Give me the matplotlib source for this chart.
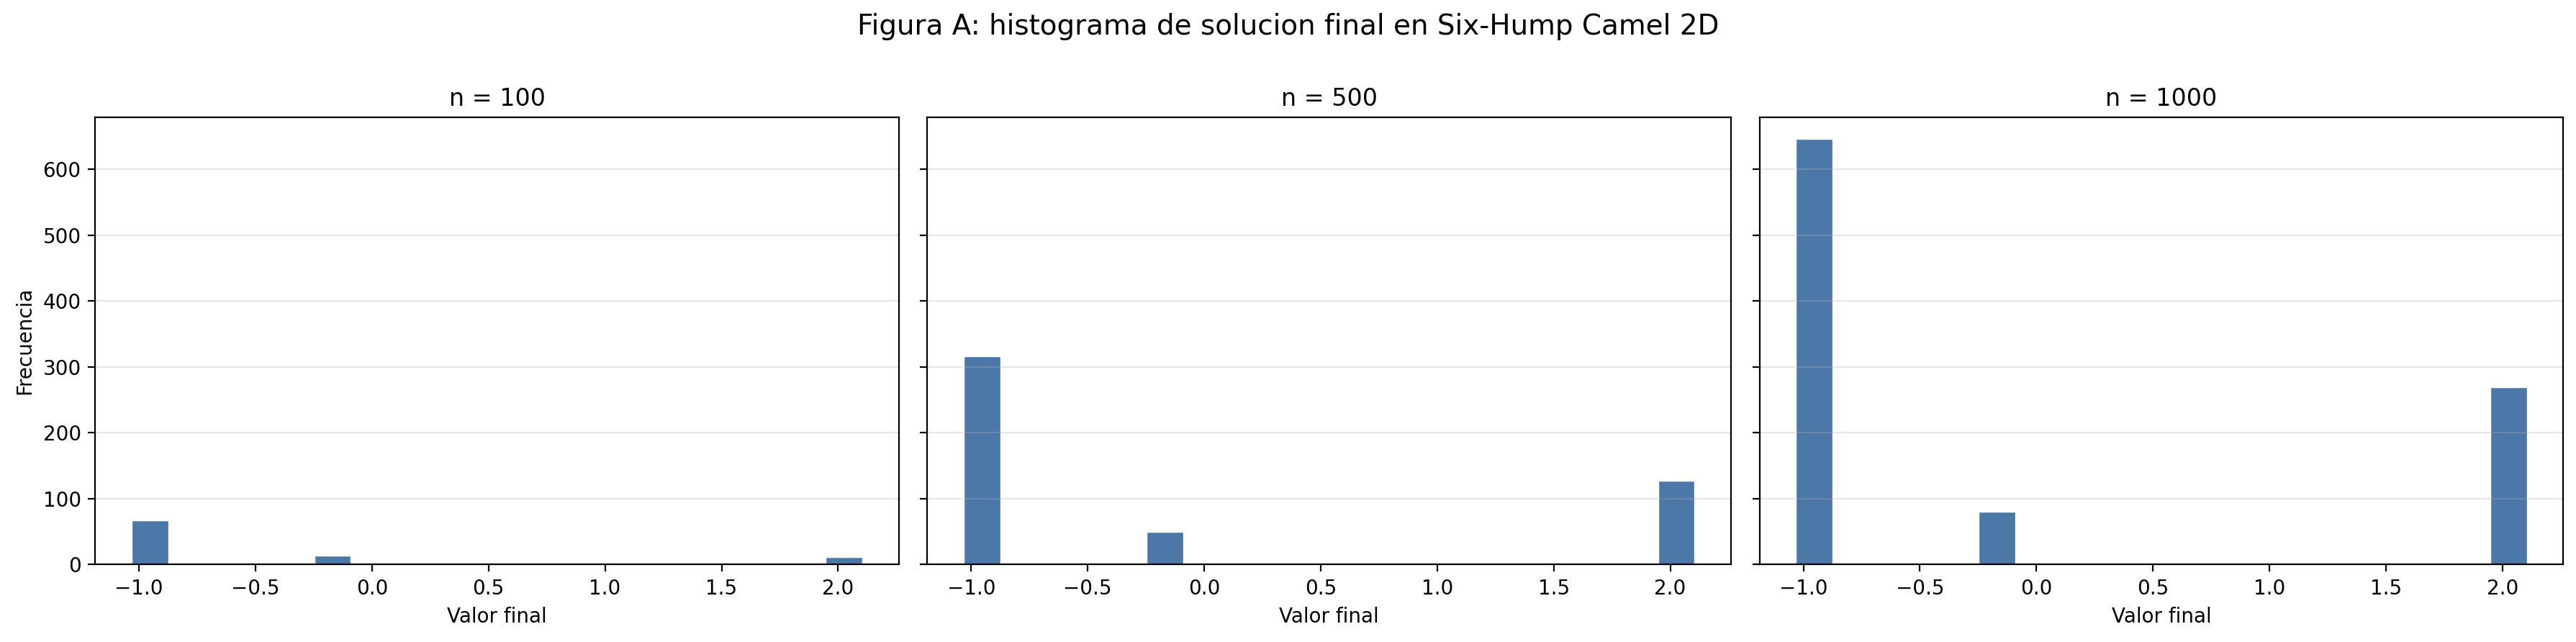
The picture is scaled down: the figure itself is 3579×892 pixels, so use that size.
import numpy as np
from matplotlib import pyplot as plt

# final values found by the runs (the three local minima) and how often each was hit
valores = [-1.0316, -0.2155, 2.1043]
n_vals = [100, 500, 1000]
conteo_100 = [67, 14, 11]
conteo_500 = [316, 50, 127]
conteo_1000 = [646, 80, 269]
conteos = [conteo_100, conteo_500, conteo_1000]

fig, axes = plt.subplots(1, 3, figsize=(17.9, 4.46), dpi=200, sharey=True)

for ax, n, c in zip(axes, n_vals, conteos):
    ax.hist(valores, bins=20, range=(min(valores), max(valores)), weights=c,
            color='#4C78A8', edgecolor='white', linewidth=0.5)
    ax.set_title('n = {0}'.format(n))
    ax.set_xlabel('Valor final')
    ax.grid(axis='y', alpha=0.3)

axes[0].set_ylabel('Frecuencia')
fig.suptitle('Figura A: histograma de solucion final en Six-Hump Camel 2D', fontsize=14)
plt.subplots_adjust(left=0.0369, right=0.9948, bottom=0.1207, top=0.817, wspace=0.0353)
plt.savefig('out.png')
